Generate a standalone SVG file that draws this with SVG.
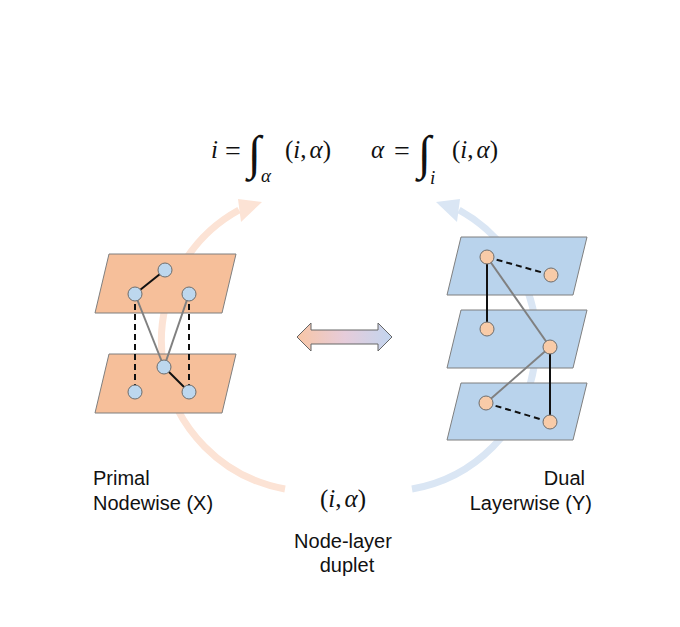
<svg xmlns="http://www.w3.org/2000/svg" width="680" height="627" viewBox="0 0 680 627">
<defs>
<style>
.math{font-family:"Liberation Serif","DejaVu Serif",serif;font-size:25px;fill:#111}
.it{font-style:italic}
.eq{font-family:"Liberation Serif","DejaVu Serif",serif;font-size:28px;fill:#111}
.sub{font-family:"Liberation Serif","DejaVu Serif",serif;font-size:19px;font-style:italic;fill:#111}
.int{font-family:"Liberation Serif","DejaVu Serif",serif;font-size:48px;fill:#111}
.lbl{font-family:"Liberation Sans",Arial,sans-serif;font-size:20px;fill:#111}
.pl-o{fill:#F6BF9A;stroke:#7f7f7f;stroke-width:1}
.pl-b{fill:#B9D3EC;stroke:#7f7f7f;stroke-width:1}
.nd-b{fill:#BDD7EE;stroke:#6d6d6d;stroke-width:1}
.nd-o{fill:#F8CBA8;stroke:#6d6d6d;stroke-width:1}
.e-solid{stroke:#111;stroke-width:2;fill:none}
.e-dash{stroke:#111;stroke-width:2;fill:none;stroke-dasharray:6 4}
.e-gray{stroke:#808080;stroke-width:2;fill:none}
</style>
<linearGradient id="dg" x1="0" y1="0" x2="1" y2="0">
<stop offset="0" stop-color="#F8C6A6"/>
<stop offset="0.5" stop-color="#E6CCDA"/>
<stop offset="1" stop-color="#C2D5EF"/>
</linearGradient>
</defs>
<rect width="680" height="627" fill="#fff"/>

<g id="cycle-arrows">
<path d="M 285 489 A 150 150 0 0 1 239 210" fill="none" stroke="#FCE3D5" stroke-width="7"/>
<polygon points="262,202 238,199 241,222" fill="#FCE3D5"/>
<path d="M 412 489 A 150 150 0 0 0 459 210" fill="none" stroke="#DAE6F4" stroke-width="7"/>
<polygon points="436,202 460,199 457,222" fill="#DAE6F4"/>
</g>

<g id="formulas">
<text class="math it" x="211" y="158">i</text>
<text class="eq" x="225" y="160">=</text>
<text class="int" x="248" y="169">∫</text>
<text class="sub" x="261" y="182">α</text>
<text class="math" x="285" y="158">(<tspan class="it">i</tspan>,<tspan class="it" dx="3">α</tspan>)</text>
<text class="math it" x="371" y="158">α</text>
<text class="eq" x="394" y="160">=</text>
<text class="int" x="418" y="169">∫</text>
<text class="sub" x="430" y="184">i</text>
<text class="math" x="452" y="158">(<tspan class="it">i</tspan>,<tspan class="it" dx="3">α</tspan>)</text>
</g>

<g id="primal">
<polygon class="pl-o" points="109,254 236,254 222,313 95,313"/>
<polygon class="pl-o" points="109,354 236,354 222,413 95,413"/>
<g id="primal-edges">
<line class="e-solid" x1="165" y1="270" x2="135" y2="294"/>
<line class="e-gray" x1="135" y1="294" x2="164" y2="367"/>
<line class="e-gray" x1="189" y1="294" x2="164" y2="367"/>
<line class="e-solid" x1="164" y1="367" x2="189" y2="392"/>
<line class="e-dash" x1="135" y1="294" x2="135" y2="392"/>
<line class="e-dash" x1="189" y1="294" x2="189" y2="392"/>
</g>
<circle class="nd-b" cx="165" cy="270" r="7"/>
<circle class="nd-b" cx="135" cy="294" r="7"/>
<circle class="nd-b" cx="189" cy="294" r="7"/>
<circle class="nd-b" cx="164" cy="367" r="7"/>
<circle class="nd-b" cx="135" cy="392" r="7"/>
<circle class="nd-b" cx="189" cy="392" r="7"/>
</g>

<g id="dual">
<polygon class="pl-b" points="461,237 587,237 573,295 447,295"/>
<polygon class="pl-b" points="461,310 587,310 573,368 447,368"/>
<polygon class="pl-b" points="461,383 587,383 573,440 447,440"/>
<g id="dual-edges">
<line class="e-dash" x1="487" y1="257" x2="551" y2="275"/>
<line class="e-solid" x1="487" y1="257" x2="487" y2="329"/>
<line class="e-gray" x1="487" y1="257" x2="550" y2="347"/>
<line class="e-gray" x1="550" y1="347" x2="486" y2="403"/>
<line class="e-solid" x1="550" y1="347" x2="550" y2="422"/>
<line class="e-dash" x1="486" y1="403" x2="550" y2="422"/>
</g>
<circle class="nd-o" cx="487" cy="257" r="7"/>
<circle class="nd-o" cx="551" cy="275" r="7"/>
<circle class="nd-o" cx="487" cy="329" r="7"/>
<circle class="nd-o" cx="550" cy="347" r="7"/>
<circle class="nd-o" cx="486" cy="403" r="7"/>
<circle class="nd-o" cx="550" cy="422" r="7"/>
</g>

<g id="double-arrow">
<polygon points="297,337 311,323 311,330 378,330 378,323 392,337 378,351 378,344 311,344 311,351" fill="url(#dg)" stroke="#666" stroke-width="1"/>
</g>

<g id="labels">
<text class="lbl" x="93" y="485">Primal</text>
<text class="lbl" x="93" y="510">Nodewise (X)</text>
<text class="lbl" x="585" y="485" text-anchor="end">Dual</text>
<text class="lbl" x="592" y="510" text-anchor="end">Layerwise (Y)</text>
<text class="math" x="320" y="507">(<tspan class="it">i</tspan>,<tspan class="it" dx="3">α</tspan>)</text>
<text class="lbl" x="343" y="548" text-anchor="middle">Node-layer</text>
<text class="lbl" x="347" y="572" text-anchor="middle">duplet</text>
</g>
</svg>
